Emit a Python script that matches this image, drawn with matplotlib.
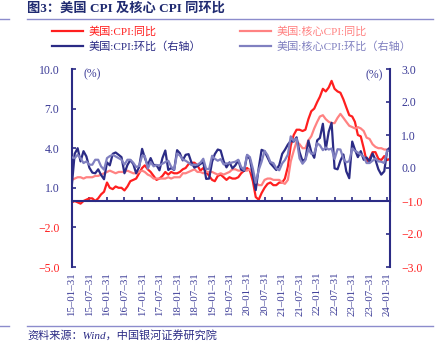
import numpy as np
import pandas as pd
import matplotlib
matplotlib.use('Agg')
import matplotlib.pyplot as plt
from matplotlib.lines import Line2D

plt.rcParams['font.family'] = ['Liberation Serif', 'Noto Sans CJK SC']
plt.rcParams['axes.unicode_minus'] = True

# monthly data, 2015-01 .. 2024-02
months = pd.date_range('2015-01-31', periods=110, freq='ME')

cpi_yoy = [-0.1, 0.0, -0.1, -0.2, 0.0, 0.1, 0.2, 0.2, 0.0, 0.2, 0.5, 0.7,
           1.4, 1.0, 0.9, 1.1, 1.0, 1.0, 0.8, 1.1, 1.5, 1.6, 1.7, 2.1,
           2.5, 2.7, 2.4, 2.2, 1.9, 1.6, 1.7, 1.9, 2.2, 2.0, 2.2, 2.1,
           2.1, 2.2, 2.4, 2.5, 2.8, 2.9, 2.9, 2.7, 2.3, 2.5, 2.2, 1.9,
           1.6, 1.5, 1.9, 2.0, 1.8, 1.6, 1.8, 1.7, 1.7, 1.8, 2.1, 2.3,
           2.5, 2.3, 1.5, 0.3, 0.1, 0.6, 1.0, 1.3, 1.4, 1.2, 1.2, 1.4,
           1.4, 1.7, 2.6, 4.2, 5.0, 5.4, 5.4, 5.3, 5.4, 6.2, 6.8, 7.0,
           7.5, 7.9, 8.5, 8.3, 8.6, 9.1, 8.5, 8.3, 8.2, 7.7, 7.1, 6.5,
           6.4, 6.0, 5.0, 4.9, 4.0, 3.0, 3.2, 3.7, 3.7, 3.2, 3.1, 3.4,
           3.1, 3.2]

core_yoy = [1.6, 1.7, 1.8, 1.8, 1.7, 1.8, 1.8, 1.8, 1.9, 1.9, 2.0, 2.1,
            2.2, 2.3, 2.2, 2.1, 2.2, 2.2, 2.2, 2.3, 2.2, 2.1, 2.1, 2.2,
            2.3, 2.2, 2.0, 1.9, 1.7, 1.7, 1.7, 1.7, 1.7, 1.8, 1.7, 1.8,
            1.8, 1.8, 2.1, 2.1, 2.2, 2.3, 2.4, 2.2, 2.2, 2.1, 2.2, 2.2,
            2.2, 2.1, 2.0, 2.1, 2.0, 2.1, 2.2, 2.4, 2.4, 2.3, 2.3, 2.3,
            2.3, 2.4, 2.1, 1.4, 1.2, 1.2, 1.6, 1.7, 1.7, 1.6, 1.6, 1.6,
            1.4, 1.3, 1.6, 3.0, 3.8, 4.5, 4.3, 4.0, 4.0, 4.6, 4.9, 5.5,
            6.0, 6.4, 6.5, 6.2, 6.0, 5.9, 5.9, 6.3, 6.6, 6.3, 6.0, 5.7,
            5.6, 5.5, 5.6, 5.5, 5.3, 4.8, 4.7, 4.3, 4.1, 4.0, 4.0, 3.9,
            3.9, 3.8]

cpi_mom = [-0.47, 0.43, 0.60, 0.20, 0.51, 0.35, 0.01, -0.14, -0.16, -0.04, -0.21, -0.34,
           0.17, 0.08, 0.43, 0.47, 0.40, 0.33, -0.16, 0.09, 0.24, 0.12, -0.16, 0.03,
           0.58, 0.31, 0.08, 0.30, 0.09, 0.09, -0.07, 0.30, 0.53, -0.06, 0.00, -0.06,
           0.54, 0.45, 0.23, 0.40, 0.42, 0.16, 0.01, 0.06, 0.12, 0.18, -0.33, -0.32,
           0.19, 0.42, 0.56, 0.53, 0.21, 0.02, 0.17, -0.01, 0.08, 0.23, -0.05, -0.09,
           0.39, 0.27, -0.22, -0.67, 0.00, 0.55, 0.51, 0.32, 0.14, 0.04, -0.06, 0.09,
           0.43, 0.55, 0.71, 0.82, 0.80, 0.93, 0.48, 0.21, 0.27, 0.83, 0.49, 0.31,
           0.84, 0.91, 1.34, 0.56, 1.10, 1.37, -0.01, -0.04, 0.22, 0.41, -0.10, -0.31,
           0.80, 0.56, 0.33, 0.51, 0.25, 0.32, 0.19, 0.44, 0.25, -0.04, -0.20, -0.10,
           0.54, 0.62]

core_mom = [0.32, 0.30, 0.40, 0.30, 0.15, 0.20, 0.10, 0.10, 0.25, 0.25, 0.05, -0.05,
            0.30, 0.36, 0.40, 0.35, 0.30, 0.25, 0.10, 0.25, 0.25, 0.16, 0.03, 0.06,
            0.37, 0.37, -0.02, 0.18, 0.05, 0.09, 0.08, 0.13, 0.18, 0.22, 0.04, -0.05,
            0.44, 0.38, 0.26, 0.22, 0.16, 0.09, 0.10, 0.10, 0.16, 0.28, -0.03, -0.03,
            0.37, 0.28, 0.22, 0.27, 0.11, 0.14, 0.14, 0.17, 0.19, 0.25, 0.03, -0.06,
            0.40, 0.33, -0.02, -0.45, -0.06, 0.19, 0.52, 0.39, 0.18, 0.15, -0.01, -0.07,
            0.14, 0.24, 0.41, 0.96, 0.82, 0.89, 0.29, 0.13, 0.24, 0.57, 0.43, 0.44,
            0.75, 0.69, 0.54, 0.62, 0.56, 0.59, 0.27, 0.57, 0.56, 0.28, 0.17, 0.21,
            0.59, 0.52, 0.47, 0.41, 0.34, 0.15, 0.15, 0.22, 0.29, 0.20, 0.19, 0.15,
            0.53, 0.51]

left_ticks = [-5, -2, 1, 4, 7, 10]
right_ticks = [-3, -2, -1, 0, 1, 2, 3]

navy = '#2B2B85'
red = '#FF1F1F'
pink = '#FF8282'
purple = '#8080C0'
label_blue = '#3A3A96'

fig = plt.figure(figsize=(4.39, 3.55), dpi=100)
ax = fig.add_axes([72/439, 1-267/355, 318/439, 198/355])
ax2 = ax.twinx()

l1, = ax.plot(months, cpi_yoy, color=red, lw=1.6, label='美国:CPI:同比')
l2, = ax.plot(months, core_yoy, color=pink, lw=1.6, label='美国:核心CPI:同比')
l3, = ax2.plot(months, cpi_mom, color=navy, lw=1.6, label='美国:CPI:环比（右轴）')
l4, = ax2.plot(months, core_mom, color=purple, lw=1.6, label='美国:核心CPI:环比（右轴）')

ax.set_ylim(-5, 10)
ax2.set_ylim(-3, 3)
ax.set_xlim(months[0], months[-1])

ax.spines['top'].set_visible(False)
ax2.spines['top'].set_visible(False)
ax2.spines['bottom'].set_visible(False)
ax2.spines['left'].set_visible(False)
ax.spines['right'].set_visible(False)
ax.spines['bottom'].set_position(('data', 0))
for sp in [ax.spines['left'], ax.spines['bottom'], ax2.spines['right']]:
    sp.set_color(navy)
    sp.set_linewidth(1.5)

ax.set_yticks(left_ticks)
ax.set_yticklabels(['%.1f' % v if v >= 0 else '\u2212%.1f' % -v for v in left_ticks])
for t, v in zip(ax.get_yticklabels(), left_ticks):
    t.set_color(red if v < 0 else label_blue)
ax2.set_yticks(right_ticks)
ax2.set_yticklabels(['%.1f' % v if v >= 0 else '\u2212%.1f' % -v for v in right_ticks])
for t, v in zip(ax2.get_yticklabels(), right_ticks):
    t.set_color(red if v < 0 else label_blue)

ax.tick_params(axis='y', direction='in', length=3, width=1.2, color=navy, labelsize=8.5, pad=9)
ax2.tick_params(axis='y', direction='in', length=3, width=1.2, color=navy, labelsize=8.5, pad=8)

xt = months[::6]
ax.set_xticks(xt)
ax.set_xticklabels([d.strftime('%y–%m–%d') for d in xt], rotation=90, color=label_blue, fontsize=7.8)
ax.tick_params(axis='x', direction='in', length=3, width=1.2, color=navy, pad=51)

ax.text(0.035, 0.975, '(%)', transform=ax.transAxes, ha='left', va='center', color=label_blue, fontsize=8.5)
ax.text(0.978, 0.97, '(%)', transform=ax.transAxes, ha='right', va='center', color=label_blue, fontsize=8.5)

fig.text(27/439, 1-8/355, '图3：美国 CPI 及核心 CPI 同环比', ha='left', va='center',
         fontsize=9.5, fontweight='bold', color='#1F2A70')
for yy in [19, 326]:
    fig.add_artist(Line2D([27/439, 433/439], [1-yy/355]*2, transform=fig.transFigure, color='#8C8CCC', lw=1))
    fig.add_artist(Line2D([0, 9/439], [1-yy/355]*2, transform=fig.transFigure, color='#8C8CCC', lw=1))

fig.legend(handles=[l1, l3, l2, l4], loc='upper left', bbox_to_anchor=(52/439, 1-26/355), ncol=2,
           frameon=False, fontsize=8, labelcolor='linecolor', handlelength=2.8, handletextpad=0.5,
           columnspacing=3.5, borderpad=0, borderaxespad=0, labelspacing=0.45)

fig.text(27/439, 1-335/355, '资料来源：Wind，中国银河证券研究院', ha='left', va='center',
         fontsize=8, style='italic', color='#2B2B85')

fig.savefig('out.png', dpi=100)
